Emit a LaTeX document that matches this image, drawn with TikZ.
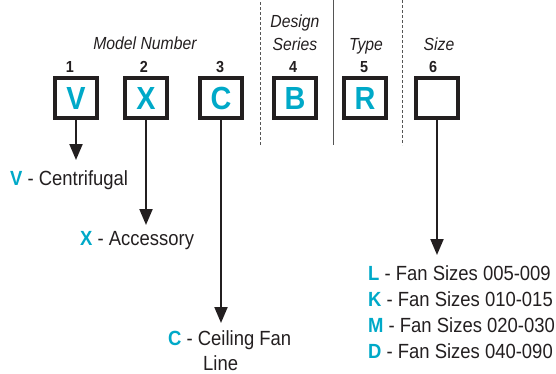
\documentclass[tikz,border=0pt]{standalone}
\usepackage{fontspec}
\setmainfont{Liberation Sans}[FakeStretch=0.9]
\usetikzlibrary{arrows.meta}
\definecolor{ink}{HTML}{231F20}
\definecolor{cyanx}{HTML}{00A9C8}
\definecolor{sep}{HTML}{555555}
\tikzset{
  x=1pt,y=1pt,
  box/.style={draw=ink,line width=4pt,minimum width=42pt,minimum height=40pt,inner sep=0pt,outer sep=2pt,
    text=cyanx,font=\fontsize{32}{34}\selectfont\bfseries},
  num/.style={anchor=base,inner sep=0pt,text=ink,font=\fontsize{16}{18}\selectfont\bfseries},
  head/.style={anchor=base,inner sep=0pt,text=ink,font=\fontsize{17.5}{20}\selectfont\itshape},
  lab/.style={anchor=base west,inner sep=0pt,text=ink,font=\fontsize{20.5}{24}\selectfont},
  arr/.style={draw=ink,line width=2pt,-{Triangle[width=13pt,length=16pt]}},
  dsep/.style={draw=sep,line width=1pt,dash pattern=on 3pt off 2pt},
  ssep/.style={draw=sep,line width=1pt}
}
\newcommand{\ck}[1]{\textcolor{cyanx}{\bfseries #1}}
\begin{document}
\begin{tikzpicture}
\useasboundingbox (0,0) rectangle (556,-373);
% separators
\coordinate (d1t) at (260,-2); \coordinate (d1b) at (260,-145);
\coordinate (s1t) at (333,0); \coordinate (s1b) at (333,-145);
\coordinate (d2t) at (402,0); \coordinate (d2b) at (402,-145);
\draw[dsep] (d1t) -- (d1b);
\draw[ssep] (s1t) -- (s1b);
\draw[dsep] (d2t) -- (d2b);
% headers
\node[head] (hmodel) at (145,-49) {Model Number};
\node[head] (hdes) at (295,-27) {Design};
\node[head] (hser) at (295,-50) {Series};
\node[head] (htype) at (366,-50) {Type};
\node[head] (hsize) at (439,-50) {Size};
% numbers
\node[num] (n1) at (70,-72) {1};
\node[num] (n2) at (144,-72) {2};
\node[num] (n3) at (220,-72) {3};
\node[num] (n4) at (293,-72) {4};
\node[num] (n5) at (364,-72) {5};
\node[num] (n6) at (433,-72) {6};
% boxes
\node[box] (b1) at (76,-98) {V};
\node[box] (b2) at (146,-98) {X};
\node[box] (b3) at (221,-98) {C};
\node[box] (b4) at (295,-98) {B};
\node[box] (b5) at (365,-98) {R};
\node[box] (b6) at (437,-98) {};
% arrow ends
\coordinate (e1) at (76,-160);
\coordinate (e2) at (146,-225);
\coordinate (e3) at (221,-323);
\coordinate (e6) at (437,-255);
\draw[arr] (b1.south) -- (e1);
\draw[arr] (b2.south) -- (e2);
\draw[arr] (b3.south) -- (e3);
\draw[arr] (b6.south) -- (e6);
% labels
\node[lab] (lv) at (10,-185) {\ck{V} - Centrifugal};
\node[lab] (lx) at (80,-245) {\ck{X} - Accessory};
\node[lab] (lc) at (168,-345) {\ck{C} - Ceiling Fan};
\node[lab] (lc2) at (203,-370) {Line};
\node[lab] (ll) at (368,-280) {\ck{L} - Fan Sizes 005-009};
\node[lab] (lk) at (368,-306) {\ck{K} - Fan Sizes 010-015};
\node[lab] (lm) at (368,-332) {\ck{M} - Fan Sizes 020-030};
\node[lab] (ld) at (368,-358) {\ck{D} - Fan Sizes 040-090};
\end{tikzpicture}
\end{document}
